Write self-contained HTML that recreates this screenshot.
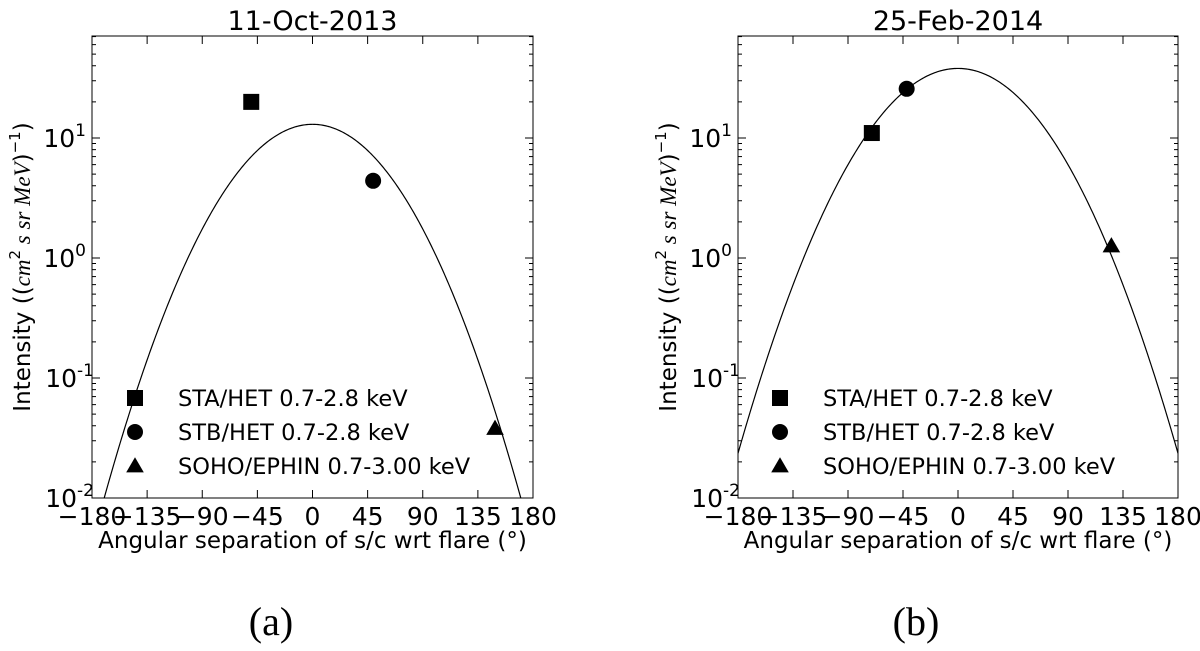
<!DOCTYPE html>
<html><head><meta charset="utf-8"><style>
body{margin:0;background:#fff;width:1200px;height:646px;overflow:hidden}
svg text{font-family:"DejaVu Sans","Liberation Sans",sans-serif;fill:#000}
</style></head><body>
<svg id="svg" width="1200" height="646" xmlns="http://www.w3.org/2000/svg"></svg>
<script>
// Panel (a) data
const aAngles=[-50,49.5,149];
const aValues=[20,4.4,0.038];
const aFitPeak=[13];
const aFitCoef=[1.077e-4];
// Panel (b) data
const bAngles=[-70.5,-42,125.5];
const bValues=[11,25.7,1.26];
const bFitPeak=[38];
const bFitCoef=[9.9e-5];
const seriesNames=["STA/HET 0.7-2.8 keV","STB/HET 0.7-2.8 keV","SOHO/EPHIN 0.7-3.00 keV"];
const seriesShapes=["square","circle","triangle"];
const xTicks=[-180,-135,-90,-45,0,45,90,135,180];
const xTickLabels=["\u2212180","\u2212135","\u221290","\u221245","0","45","90","135","180"];
const yDecades=[-2,-1,0,1];

const NS="http://www.w3.org/2000/svg";
const svg=document.getElementById('svg');
function el(tag,attrs,parent){const e=document.createElementNS(NS,tag);for(const k in attrs)e.setAttribute(k,attrs[k]);(parent||svg).appendChild(e);return e;}

function panel(id,L,R,title,angles,values,peak,coef,legX){
  const T=36,B=498,yMinLog=-2,yMaxLog=1.85;
  const g=el('g',{});
  
  
  const xs=v=>L+(v+180)/360*(R-L);
  const ys=v=>B-(Math.log10(v)-yMinLog)/(yMaxLog-yMinLog)*(B-T);
  const t=el('text',{x:(L+R)/2,y:30,'font-size':27,'text-anchor':'middle'},g);t.textContent=title;
  
  const cp=el('clipPath',{id:id+'-clip'},g);el('rect',{x:L,y:T,width:R-L,height:B-T},cp);
  let d='';for(let a=-180;a<=180;a+=1){const v=peak*Math.pow(10,-coef*a*a);d+=(a==-180?'M':'L')+xs(a).toFixed(2)+','+ys(v).toFixed(2);}
  const c=el('path',{d:d,fill:'none',stroke:'#000','stroke-width':1.2,'clip-path':'url(#'+id+'-clip)'},g);
  
  const fr=el('rect',{x:L,y:T,width:R-L,height:B-T,fill:'none',stroke:'#000','stroke-width':1},g);
  
  xTicks.forEach((v,i)=>{const x=xs(v);
    el('line',{x1:x,y1:B,x2:x,y2:B-8,stroke:'#000'},g);el('line',{x1:x,y1:T,x2:x,y2:T+8,stroke:'#000'},g);
    const tl=el('text',{x:x,y:B+27,'font-size':25,'text-anchor':'middle'},g);tl.textContent=xTickLabels[i];
    });
  yDecades.forEach(p=>{const y=ys(Math.pow(10,p));
    el('line',{x1:L,y1:y,x2:L+8,y2:y,stroke:'#000'},g);el('line',{x1:R,y1:y,x2:R-8,y2:y,stroke:'#000'},g);
    const tl=el('text',{x:L-6,y:y+9,'font-size':25,'text-anchor':'end'},g);
    const a1=el('tspan',{},tl);a1.textContent='10';const a2=el('tspan',{dy:-11,'font-size':17},tl);a2.textContent=String(p);
    if(p<0){tl.setAttribute('x',L+2);}
    
    for(let m=2;m<=9;m++){const yy=ys(m*Math.pow(10,p));if(yy<T)continue;
      el('line',{x1:L,y1:yy,x2:L+4,y2:yy,stroke:'#000'},g);el('line',{x1:R,y1:yy,x2:R-4,y2:yy,stroke:'#000'},g);}
  });
  const xl=el('text',{x:(L+R)/2,y:B+50,'font-size':23,'text-anchor':'middle'},g);xl.textContent='Angular separation of s/c wrt flare (\u00b0)';
  
  const yl=el('text',{x:0,y:0,'font-size':23,'text-anchor':'middle',transform:'translate('+(L-62)+',267) rotate(-90)'},g);
  yl.innerHTML='Intensity ((<tspan font-family="Liberation Serif,serif" font-style="italic">cm</tspan><tspan dy="-10" font-size="15">2</tspan><tspan dy="10" font-family="Liberation Serif,serif" font-style="italic"> s sr MeV</tspan>)<tspan dy="-10" font-size="15">\u22121</tspan><tspan dy="10">)</tspan>';
  
  function marker(shape,x,y,s,parent){
    if(shape==='square')return el('rect',{x:x-s,y:y-s,width:2*s,height:2*s,fill:'#000'},parent);
    if(shape==='circle')return el('circle',{cx:x,cy:y,r:s,fill:'#000'},parent);
    return el('polygon',{points:(x)+','+(y-s*1.1)+' '+(x-s*1.1)+','+(y+s*0.8)+' '+(x+s*1.1)+','+(y+s*0.8),fill:'#000'},parent);
  }
  angles.forEach((a,i)=>{const m=marker(seriesShapes[i],xs(a),ys(values[i]),8,g);
    });
  seriesNames.forEach((n,i)=>{const y=398+i*34;
    const m=marker(seriesShapes[i],legX,y,8,g);
    const tx=el('text',{x:legX+43,y:y+8,'font-size':22.5},g);tx.textContent=n;
    });
}
panel('panel-a',92,533,'11-Oct-2013',aAngles,aValues,aFitPeak[0],aFitCoef[0],135);
panel('panel-b',738,1178,'25-Feb-2014',bAngles,bValues,bFitPeak[0],bFitCoef[0],780);
const la=el('text',{x:271,y:635,'font-size':40,'text-anchor':'middle'});la.textContent='(a)';

la.style.fontFamily='"Liberation Serif",serif';
const lb=el('text',{x:916,y:635,'font-size':40,'text-anchor':'middle'});lb.textContent='(b)';

lb.style.fontFamily='"Liberation Serif",serif';
</script>
</body></html>
